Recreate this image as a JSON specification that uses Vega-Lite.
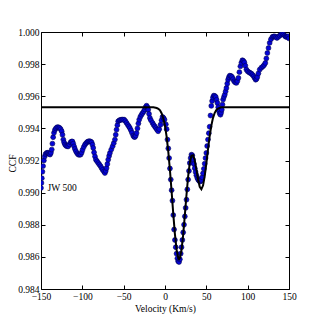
{
  "$schema": "https://vega.github.io/schema/vega-lite/v6.json",
  "width": 248,
  "height": 257,
  "autosize": {"type": "none"},
  "padding": {"left": 41, "top": 32, "right": 33, "bottom": 33},
  "background": "white",
  "config": {
    "view": {"stroke": "#000000", "strokeWidth": 1},
    "axis": {"grid": false, "domain": false, "labelFlush": false, "labelFont": "Liberation Serif", "titleFont": "Liberation Serif", "labelFontSize": 9.5, "titleFontSize": 9.5, "titleFontWeight": "normal", "labelColor": "#000", "titleColor": "#000", "tickColor": "#000", "tickSize": -4, "labelPadding": 6}
  },
  "datasets": {
    "ccf": [
      {"v": -150, "c": 0.99029}, {"v": -149.5, "c": 0.9906}, {"v": -149.0, "c": 0.9909}, {"v": -148.3, "c": 0.9913},
      {"v": -147.5, "c": 0.99165}, {"v": -146.5, "c": 0.992}, {"v": -145.5, "c": 0.99225}, {"v": -144.5, "c": 0.9924},
      {"v": -143.2, "c": 0.99247}, {"v": -142, "c": 0.99248}, {"v": -141, "c": 0.99246}, {"v": -140, "c": 0.9924},
      {"v": -139, "c": 0.99237}, {"v": -138, "c": 0.99248}, {"v": -137, "c": 0.99268}, {"v": -136.2, "c": 0.99305},
      {"v": -135.3, "c": 0.99345}, {"v": -134.3, "c": 0.99372}, {"v": -133.2, "c": 0.9939}, {"v": -132, "c": 0.994},
      {"v": -130.5, "c": 0.99407}, {"v": -129, "c": 0.99407}, {"v": -127.5, "c": 0.99403}, {"v": -126.2, "c": 0.99395},
      {"v": -125, "c": 0.99382}, {"v": -124, "c": 0.9936}, {"v": -123, "c": 0.9933}, {"v": -122, "c": 0.99312},
      {"v": -121, "c": 0.993}, {"v": -119.8, "c": 0.99292}, {"v": -118.4, "c": 0.99288}, {"v": -117, "c": 0.99288},
      {"v": -115.6, "c": 0.993}, {"v": -114.2, "c": 0.99313}, {"v": -113, "c": 0.99318}, {"v": -112, "c": 0.99318},
      {"v": -111, "c": 0.99305}, {"v": -110, "c": 0.99288}, {"v": -109, "c": 0.99272}, {"v": -107.7, "c": 0.99257},
      {"v": -106.3, "c": 0.99245}, {"v": -105, "c": 0.99237}, {"v": -103.5, "c": 0.99235}, {"v": -102, "c": 0.99237},
      {"v": -100.8, "c": 0.9925}, {"v": -99.7, "c": 0.99267}, {"v": -98.2, "c": 0.99285}, {"v": -96.8, "c": 0.99299},
      {"v": -95.4, "c": 0.99308}, {"v": -94, "c": 0.99315}, {"v": -92.8, "c": 0.99319}, {"v": -91.4, "c": 0.9932},
      {"v": -90, "c": 0.99318}, {"v": -88.8, "c": 0.99313}, {"v": -87.8, "c": 0.99298}, {"v": -86.8, "c": 0.99278},
      {"v": -85.8, "c": 0.9925}, {"v": -84.7, "c": 0.99225}, {"v": -83.6, "c": 0.99205}, {"v": -82.2, "c": 0.99195},
      {"v": -80.7, "c": 0.99184}, {"v": -79.4, "c": 0.99175}, {"v": -78, "c": 0.99165}, {"v": -76.7, "c": 0.99153},
      {"v": -75.4, "c": 0.99142}, {"v": -74, "c": 0.99132}, {"v": -72.7, "c": 0.99122}, {"v": -71.7, "c": 0.99135},
      {"v": -70.7, "c": 0.99153}, {"v": -69.7, "c": 0.99178}, {"v": -68.7, "c": 0.99205}, {"v": -67.6, "c": 0.99228},
      {"v": -66.6, "c": 0.99247}, {"v": -65, "c": 0.99268}, {"v": -63.4, "c": 0.99288}, {"v": -62, "c": 0.99308},
      {"v": -60.6, "c": 0.9933}, {"v": -59.6, "c": 0.9936}, {"v": -58.6, "c": 0.99392}, {"v": -57.6, "c": 0.9942},
      {"v": -56.6, "c": 0.99444}, {"v": -55.2, "c": 0.9945}, {"v": -54, "c": 0.99453}, {"v": -52.5, "c": 0.99454},
      {"v": -51, "c": 0.99455}, {"v": -49.3, "c": 0.99454}, {"v": -47.9, "c": 0.99445}, {"v": -46.5, "c": 0.99434},
      {"v": -45, "c": 0.99422}, {"v": -43.7, "c": 0.99412}, {"v": -42.5, "c": 0.99402}, {"v": -41.2, "c": 0.99388},
      {"v": -40, "c": 0.99372}, {"v": -38.5, "c": 0.99355}, {"v": -37.4, "c": 0.99347}, {"v": -36.4, "c": 0.99346},
      {"v": -35.4, "c": 0.99355}, {"v": -34.4, "c": 0.99371}, {"v": -33.3, "c": 0.994}, {"v": -32.2, "c": 0.9943},
      {"v": -31.2, "c": 0.99454}, {"v": -29.8, "c": 0.99472}, {"v": -28.4, "c": 0.99485}, {"v": -27, "c": 0.99496},
      {"v": -25.6, "c": 0.99506}, {"v": -24.5, "c": 0.99518}, {"v": -23.4, "c": 0.99532}, {"v": -22.3, "c": 0.99541},
      {"v": -21.3, "c": 0.99532}, {"v": -20.3, "c": 0.99516}, {"v": -19.3, "c": 0.9949}, {"v": -18.3, "c": 0.99465},
      {"v": -17, "c": 0.9945}, {"v": -15.1, "c": 0.99434}, {"v": -13.8, "c": 0.99422}, {"v": -12.4, "c": 0.99412},
      {"v": -11.1, "c": 0.99402}, {"v": -9.7, "c": 0.99392}, {"v": -8.3, "c": 0.99382}, {"v": -7, "c": 0.99395},
      {"v": -5.4, "c": 0.99423}, {"v": -4.2, "c": 0.9945}, {"v": -3.0, "c": 0.99471}, {"v": -1.8, "c": 0.99465},
      {"v": -0.6, "c": 0.99454}, {"v": 1, "c": 0.99425}, {"v": 2, "c": 0.99395}, {"v": 3, "c": 0.9933},
      {"v": 4, "c": 0.99275}, {"v": 5, "c": 0.99215}, {"v": 6, "c": 0.9915}, {"v": 7, "c": 0.99081},
      {"v": 8, "c": 0.99015}, {"v": 9, "c": 0.9895}, {"v": 10, "c": 0.9886}, {"v": 11, "c": 0.9877},
      {"v": 12, "c": 0.98705}, {"v": 13, "c": 0.9866}, {"v": 14, "c": 0.9862}, {"v": 15, "c": 0.9859},
      {"v": 16, "c": 0.98572}, {"v": 17, "c": 0.98568}, {"v": 18, "c": 0.98585}, {"v": 19, "c": 0.9862},
      {"v": 20, "c": 0.9866}, {"v": 21, "c": 0.98705}, {"v": 22, "c": 0.98752}, {"v": 23, "c": 0.988},
      {"v": 24, "c": 0.98852}, {"v": 25, "c": 0.98905}, {"v": 26, "c": 0.98956}, {"v": 27, "c": 0.9902},
      {"v": 28, "c": 0.99081}, {"v": 29, "c": 0.99135}, {"v": 30, "c": 0.99184}, {"v": 31, "c": 0.99215},
      {"v": 32, "c": 0.99236}, {"v": 33, "c": 0.99232}, {"v": 34, "c": 0.99205}, {"v": 35, "c": 0.99178},
      {"v": 36, "c": 0.99152}, {"v": 37, "c": 0.99128}, {"v": 38, "c": 0.99108}, {"v": 39, "c": 0.99092},
      {"v": 40, "c": 0.99082}, {"v": 41, "c": 0.99075}, {"v": 42, "c": 0.9907}, {"v": 43, "c": 0.9907},
      {"v": 44, "c": 0.99078}, {"v": 45, "c": 0.99095}, {"v": 46, "c": 0.9912}, {"v": 47, "c": 0.99148},
      {"v": 48, "c": 0.9918}, {"v": 49, "c": 0.99215}, {"v": 50, "c": 0.99247}, {"v": 51, "c": 0.9929},
      {"v": 52, "c": 0.9933}, {"v": 53, "c": 0.9937}, {"v": 54, "c": 0.9941}, {"v": 55, "c": 0.9948},
      {"v": 56, "c": 0.9954}, {"v": 57, "c": 0.9957}, {"v": 58, "c": 0.99592}, {"v": 59, "c": 0.99604},
      {"v": 60.2, "c": 0.99602}, {"v": 61.4, "c": 0.99595}, {"v": 62.4, "c": 0.99578}, {"v": 63.4, "c": 0.99558},
      {"v": 64.4, "c": 0.99532}, {"v": 65.4, "c": 0.99506}, {"v": 66.2, "c": 0.99492}, {"v": 67.1, "c": 0.99485},
      {"v": 67.9, "c": 0.99498}, {"v": 68.7, "c": 0.99516}, {"v": 69.5, "c": 0.99548}, {"v": 70.3, "c": 0.99579},
      {"v": 71.3, "c": 0.99596}, {"v": 72.3, "c": 0.9961}, {"v": 73.3, "c": 0.9963}, {"v": 74.3, "c": 0.99651},
      {"v": 75.3, "c": 0.99678}, {"v": 76.3, "c": 0.99703}, {"v": 77.3, "c": 0.99718}, {"v": 78.3, "c": 0.99728},
      {"v": 79.7, "c": 0.99727}, {"v": 81.1, "c": 0.9972}, {"v": 82.3, "c": 0.99707}, {"v": 83.6, "c": 0.99693},
      {"v": 85, "c": 0.99686}, {"v": 86.4, "c": 0.99683}, {"v": 87.6, "c": 0.99695}, {"v": 88.8, "c": 0.99714},
      {"v": 90, "c": 0.9975}, {"v": 91.2, "c": 0.99786}, {"v": 92.4, "c": 0.99808}, {"v": 93.6, "c": 0.99824},
      {"v": 94.8, "c": 0.9982}, {"v": 96.0, "c": 0.99811}, {"v": 97.2, "c": 0.9979}, {"v": 98.5, "c": 0.99766},
      {"v": 100, "c": 0.99755}, {"v": 101.7, "c": 0.99749}, {"v": 103, "c": 0.99745}, {"v": 104.5, "c": 0.99741},
      {"v": 105.9, "c": 0.99733}, {"v": 107.3, "c": 0.99724}, {"v": 108.5, "c": 0.99713}, {"v": 109.7, "c": 0.99703},
      {"v": 110.7, "c": 0.99708}, {"v": 111.7, "c": 0.9972}, {"v": 113, "c": 0.99742}, {"v": 114.6, "c": 0.99766},
      {"v": 116.6, "c": 0.99778}, {"v": 118.6, "c": 0.99786}, {"v": 120, "c": 0.99795}, {"v": 121.4, "c": 0.99807},
      {"v": 122.6, "c": 0.99835}, {"v": 123.8, "c": 0.99869}, {"v": 125.2, "c": 0.999}, {"v": 126.6, "c": 0.99932},
      {"v": 128.2, "c": 0.99955}, {"v": 129.9, "c": 0.99969}, {"v": 131.3, "c": 0.99972}, {"v": 132.7, "c": 0.99973},
      {"v": 134.1, "c": 0.99968}, {"v": 135.5, "c": 0.99963}, {"v": 137.1, "c": 0.9997}, {"v": 138.7, "c": 0.99977},
      {"v": 140.3, "c": 0.99984}, {"v": 141.9, "c": 0.9999}, {"v": 143.3, "c": 0.99985}, {"v": 144.8, "c": 0.99977},
      {"v": 145.8, "c": 0.99972}, {"v": 146.8, "c": 0.99969}, {"v": 148, "c": 0.99971}, {"v": 149.2, "c": 0.99973},
      {"v": 150, "c": 0.9996}
    ],
    "fit": [
      {"v": -150, "c": 0.99532}, {"v": -20, "c": 0.99532}, {"v": -14, "c": 0.99531}, {"v": -10, "c": 0.99527},
      {"v": -8, "c": 0.99522}, {"v": -6, "c": 0.99512}, {"v": -4, "c": 0.99493}, {"v": -2, "c": 0.99463},
      {"v": 0, "c": 0.99416}, {"v": 2, "c": 0.99347}, {"v": 4, "c": 0.99254}, {"v": 6, "c": 0.99139},
      {"v": 8, "c": 0.99006}, {"v": 10, "c": 0.98868}, {"v": 12, "c": 0.98742}, {"v": 14, "c": 0.98645},
      {"v": 16, "c": 0.98592}, {"v": 17, "c": 0.98585}, {"v": 18, "c": 0.98592}, {"v": 20, "c": 0.98644},
      {"v": 22, "c": 0.98739}, {"v": 24, "c": 0.9886}, {"v": 26, "c": 0.98987}, {"v": 28, "c": 0.99101},
      {"v": 30, "c": 0.99186}, {"v": 32, "c": 0.99231}, {"v": 34, "c": 0.99233}, {"v": 36, "c": 0.992},
      {"v": 38, "c": 0.99143}, {"v": 40, "c": 0.99082}, {"v": 42, "c": 0.99036}, {"v": 44, "c": 0.99021},
      {"v": 46, "c": 0.99044}, {"v": 48, "c": 0.99101}, {"v": 50, "c": 0.99181}, {"v": 52, "c": 0.99269},
      {"v": 54, "c": 0.9935}, {"v": 56, "c": 0.99416}, {"v": 58, "c": 0.99464}, {"v": 60, "c": 0.99495},
      {"v": 62, "c": 0.99513}, {"v": 64, "c": 0.99523}, {"v": 66, "c": 0.99528}, {"v": 68, "c": 0.99531},
      {"v": 70, "c": 0.99532}, {"v": 150, "c": 0.99532}
    ]
  },
  "layer": [
    {
      "data": {"name": "ccf"},
      "mark": {"type": "circle", "size": 24, "fill": "#0505d8", "stroke": "#000050", "strokeWidth": 0.6, "opacity": 1, "clip": true},
      "encoding": {
        "x": {"field": "v", "type": "quantitative", "scale": {"domain": [-150, 150], "nice": false, "zero": false},
          "axis": {"orient": "bottom", "values": [-150, -100, -50, 0, 50, 100, 150], "title": "Velocity (Km/s)", "titlePadding": 3}},
        "y": {"field": "c", "type": "quantitative", "scale": {"domain": [0.984, 1.0], "nice": false, "zero": false},
          "axis": {"orient": "left", "values": [0.984, 0.986, 0.988, 0.99, 0.992, 0.994, 0.996, 0.998, 1.0], "format": ".3f", "title": "CCF", "titleX": -24, "titleY": 131}}
      }
    },
    {
      "data": {"name": "fit"},
      "mark": {"type": "line", "color": "#000000", "strokeWidth": 2, "clip": true},
      "encoding": {
        "x": {"field": "v", "type": "quantitative",
          "axis": {"orient": "top", "values": [-150, -100, -50, 0, 50, 100, 150], "labels": false, "title": null}},
        "y": {"field": "c", "type": "quantitative",
          "axis": {"orient": "right", "values": [0.984, 0.986, 0.988, 0.99, 0.992, 0.994, 0.996, 0.998, 1.0], "labels": false, "title": null}}
      }
    },
    {
      "data": {"values": [{"v": -142, "c": 0.9903, "label": "JW 500"}]},
      "mark": {"type": "text", "align": "left", "baseline": "middle", "font": "Liberation Serif", "fontSize": 9.5, "color": "#000"},
      "encoding": {
        "x": {"field": "v", "type": "quantitative", "axis": null},
        "y": {"field": "c", "type": "quantitative", "axis": null},
        "text": {"field": "label"}
      }
    }
  ],
  "resolve": {"axis": {"x": "independent", "y": "independent"}}
}
